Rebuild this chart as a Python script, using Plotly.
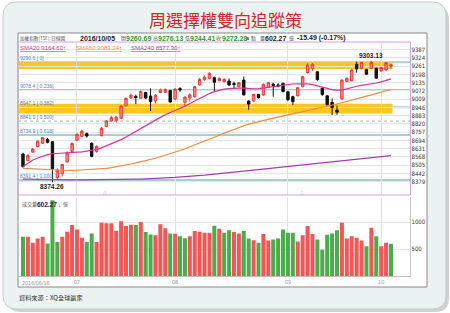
import plotly.graph_objects as go

W, H = 450, 313
def px(x): return x / W
def py(y): return 1 - y / H

# ---------------- data ----------------
dates = (
    ["2016-06-%02d" % d for d in [16, 17, 20, 21, 22, 23, 24, 27, 28, 29, 30]]
    + ["2016-07-%02d" % d for d in [1, 4, 5, 6, 7, 11, 12, 13, 14, 15, 18, 19, 20, 21, 22, 25, 26, 27, 28, 29]]
    + ["2016-08-%02d" % d for d in [1, 2, 3, 4, 5, 8, 9, 10, 11, 12, 15, 16, 17, 18, 19, 22, 23, 24, 25, 26, 29, 30, 31]]
    + ["2016-09-%02d" % d for d in [1, 2, 5, 6, 7, 8, 9, 12, 13, 14, 19, 20, 21, 22, 23, 26, 28, 29, 30]]
    + ["2016-10-%02d" % d for d in [3, 4, 5]]
)

opens = [8590, 8540, 8605, 8648, 8672, 8700, 8684, 8410, 8440, 8530,
         8610, 8695, 8725, 8745, 8672, 8610, 8731, 8800, 8843, 8848,
         8863, 8960, 9018, 9030, 9016, 9060, 9033, 8995, 9060, 9062,
         9075, 9010, 9090, 8985, 9018, 9028, 9118, 9158, 9168, 9173,
         9150, 9143, 9148, 9128, 9105, 9155, 8995, 8995, 9045, 9041,
         9100, 9124, 9118, 9130, 9066, 9028, 9036, 9105, 9212, 9245,
         9218, 9092, 9035, 8985, 8925, 9011, 9145, 9150, 9275, 9245,
         9236, 9245, 9245, 9225, 9232, 9260.69]
highs = [8600, 8590, 8635, 8695, 8720, 8712, 8690, 8480, 8515, 8610,
         8680, 8750, 8775, 8755, 8680, 8655, 8795, 8850, 8880, 8880,
         8962, 9022, 9052, 9045, 9075, 9065, 9092, 9048, 9090, 9092,
         9080, 9092, 9100, 9030, 9055, 9110, 9172, 9190, 9215, 9181,
         9175, 9170, 9168, 9143, 9140, 9181, 9000, 9050, 9050, 9128,
         9140, 9135, 9132, 9135, 9072, 9035, 9100, 9185, 9283, 9285,
         9222, 9098, 9040, 9015, 8960, 9160, 9175, 9238, 9296, 9295,
         9242, 9303.13, 9250, 9255, 9292, 9276.13]
lows = [8485, 8535, 8598, 8640, 8665, 8672, 8374.26, 8395, 8420, 8525,
        8605, 8690, 8720, 8715, 8565, 8600, 8725, 8795, 8838, 8830,
        8858, 8955, 9012, 8972, 9010, 9010, 8919, 8975, 9055, 9055,
        8982, 9000, 9065, 8950, 8990, 9020, 9112, 9150, 9160, 9072,
        9145, 9138, 9110, 9092, 9100, 9036, 8928, 8990, 9015, 9035,
        9095, 9028, 9100, 9060, 8995, 8965, 9030, 9100, 9205, 9225,
        9150, 9035, 8960, 8888, 8890, 9005, 9140, 9145, 9212, 9240,
        9195, 9240, 9165, 9220, 9228, 9244.41]
closes = [8495, 8578, 8628, 8688, 8715, 8680, 8477, 8468, 8510, 8600,
          8670, 8740, 8765, 8728, 8572, 8648, 8787, 8843, 8868, 8872,
          8957, 9015, 9040, 9022, 9067, 9018, 8992, 9040, 9078, 9082,
          8988, 9086, 9080, 9025, 9042, 9105, 9160, 9176, 9207, 9138,
          9168, 9160, 9118, 9122, 9135, 9042, 8972, 9045, 9022, 9123,
          9135, 9112, 9108, 9068, 9005, 8990, 9097, 9181, 9270, 9275,
          9158, 9045, 8968, 8945, 8910, 9155, 9168, 9232, 9240, 9290,
          9200, 9290, 9170, 9250, 9287.77, 9272.28]
volumes = [732, 732, 620, 700, 732, 607, 1410, 638, 732, 826,
           951, 869, 713, 638, 794, 638, 994, 982, 982, 844,
           1019, 932, 957, 951, 1007, 819, 776, 763, 963, 888,
           794, 788, 744, 707, 744, 838, 826, 807, 807, 938,
           882, 807, 851, 819, 794, 838, 700, 669, 620, 782,
           663, 682, 700, 869, 807, 807, 644, 763, 932, 782,
           682, 494, 769, 794, 851, 994, 700, 744, 713, 663,
           557, 900, 744, 557, 620, 602.27]
sma20 = [8494, 8520, 8545, 8560, 8575, 8586, 8592, 8594, 8595, 8596,
         8598, 8602, 8607, 8612, 8618, 8625, 8637, 8652, 8668, 8684,
         8700, 8720, 8742, 8765, 8788, 8810, 8830, 8850, 8870, 8890,
         8908, 8925, 8940, 8955, 8972, 8995, 9015, 9035, 9052, 9067,
         9078, 9086, 9090, 9093, 9094, 9093, 9090, 9088, 9090, 9095,
         9102, 9108, 9114, 9118, 9122, 9125, 9127, 9128, 9126, 9120,
         9111, 9100, 9090, 9082, 9079, 9080, 9088, 9100, 9108, 9115,
         9120, 9126, 9133, 9141, 9151, 9164.60]
sma60 = [8481, 8480, 8478, 8476, 8474, 8472, 8470, 8468, 8466, 8465,
         8465, 8466, 8468, 8470, 8472, 8474, 8477, 8481, 8486, 8492,
         8499, 8506, 8514, 8522, 8530, 8539, 8548, 8558, 8569, 8580,
         8592, 8604, 8617, 8630, 8644, 8658, 8672, 8687, 8702, 8718,
         8733, 8750, 8765, 8780, 8794, 8806, 8818, 8828, 8838, 8847,
         8856, 8864, 8872, 8880, 8888, 8896, 8904, 8912, 8920, 8928,
         8936, 8945, 8955, 8964, 8972, 8982, 8993, 9003, 9013, 9023,
         9033, 9042, 9052, 9062, 9072, 9083.34]
sma240 = [8398, 8397, 8397, 8396, 8396, 8395, 8395, 8394, 8394, 8393,
          8393, 8393, 8393, 8393, 8393, 8393, 8394, 8394, 8394, 8395,
          8395, 8396, 8397, 8398, 8399, 8400, 8402, 8404, 8406, 8408,
          8410, 8412, 8414, 8417, 8420, 8422, 8426, 8429, 8433, 8436,
          8440, 8444, 8448, 8452, 8456, 8460, 8464, 8467, 8471, 8474,
          8478, 8481, 8485, 8488, 8492, 8495, 8499, 8503, 8507, 8511,
          8515, 8519, 8523, 8527, 8531, 8535, 8539, 8543, 8547, 8552,
          8556, 8560, 8564, 8568, 8573, 8577.30]

price_ticks = [8379, 8442, 8505, 8568, 8631, 8694, 8757, 8820, 8883,
               8946, 9009, 9072, 9135, 9198, 9261, 9324, 9387]
vol_ticks = [500, 1000]
month_ticks = ["2016-07-01", "2016-08-01", "2016-09-01", "2016-10-03"]
month_labels = ["07", "08", "09", "10"]
first_label = "2016/06/16"

fib_levels = [9290.6, 9078.4, 8947.1, 8841.0, 8734.9, 8391.4]
fib_ratios = ["0", "0.236", "0.382", "0.500", "0.618", "1.000"]
bands = [(9240, 9290.6), (8900, 8975)]

header = dict(date="2016/10/05", open="9260.69", high="9276.13", low="9244.41",
              close="9272.28", vol="602.27", chg="-15.49 (-0.17%)")
sma_labels = [("SMA20", "9164.60"), ("SMA60", "9083.34"), ("SMA240", "8577.30")]

# ---------------- styles ----------------
C_UP_FILL, C_UP_LINE = "#f98a8a", "#e53b3b"
C_DN = "#111111"
C_VUP, C_VDN = "#f25656", "#4cab4c"
C_SMA = ["#d9329c", "#f08a3c", "#a63eac"]
GREEN_TXT = "#2f9a2f"
CJK = "Noto Sans CJK TC"
LAT = "Liberation Sans"

vol_colors = []
for i, c in enumerate(closes):
    up = (c > closes[i - 1]) if i > 0 else (c > opens[i])
    vol_colors.append(C_VUP if up else C_VDN)

XR = [-1.02, 78.98]

fig = go.Figure()
fig.add_trace(go.Candlestick(
    x=dates, open=opens, high=highs, low=lows, close=closes,
    xaxis="x", yaxis="y", whiskerwidth=0,
    increasing=dict(line=dict(color=C_UP_LINE, width=1), fillcolor=C_UP_FILL),
    decreasing=dict(line=dict(color=C_DN, width=1), fillcolor=C_DN),
    showlegend=False, hoverinfo="skip"))
for arr, col in zip([sma240, sma60, sma20], [C_SMA[2], C_SMA[1], C_SMA[0]]):
    fig.add_trace(go.Scatter(x=dates, y=arr, mode="lines", xaxis="x", yaxis="y",
                             line=dict(color=col, width=1.2), showlegend=False, hoverinfo="skip"))
fig.add_trace(go.Bar(x=dates, y=volumes, xaxis="x2", yaxis="y2",
                     marker=dict(color=vol_colors, line=dict(width=0)),
                     showlegend=False, hoverinfo="skip"))

# ---------------- shapes ----------------
def rrect(x0, y0, x1, y1, r):
    X = lambda v: px(v)
    Y = lambda v: py(v)
    return (f"M {X(x0+r)} {Y(y0)} L {X(x1-r)} {Y(y0)} Q {X(x1)} {Y(y0)} {X(x1)} {Y(y0+r)} "
            f"L {X(x1)} {Y(y1-r)} Q {X(x1)} {Y(y1)} {X(x1-r)} {Y(y1)} "
            f"L {X(x0+r)} {Y(y1)} Q {X(x0)} {Y(y1)} {X(x0)} {Y(y1-r)} "
            f"L {X(x0)} {Y(y0+r)} Q {X(x0)} {Y(y0)} {X(x0+r)} {Y(y0)} Z")

shapes = [
    dict(type="path", path=rrect(7, 6, 449, 312, 14), xref="paper", yref="paper",
         fillcolor="#cfd2d2", line=dict(width=0), layer="below"),
    dict(type="path", path=rrect(3, 2, 446, 309, 14), xref="paper", yref="paper",
         fillcolor="#eaf2f2", line=dict(color="#c4cccc", width=1), layer="below"),
    dict(type="rect", x0=px(18), x1=px(427), y0=py(287), y1=py(33), xref="paper", yref="paper",
         fillcolor="white", line=dict(color="#8a8a8a", width=1), layer="below"),
]
for lo, hi in bands:
    shapes.append(dict(type="rect", xref="x", yref="y", x0=XR[0], x1=75.3, y0=lo, y1=hi,
                       fillcolor="#ffc520", line=dict(width=0), layer="below"))
for lvl, r in zip(fib_levels, fib_ratios):
    if r == "0.500":
        shapes.append(dict(type="line", xref="paper", yref="y", x0=px(18), x1=px(410), y0=lvl, y1=lvl,
                           line=dict(color="#b8c4c4", width=1.2, dash="dot"), layer="below"))
    else:
        shapes.append(dict(type="line", xref="paper", yref="y", x0=px(18), x1=px(410), y0=lvl, y1=lvl,
                           line=dict(color="#a6cfcd", width=2), layer="below"))
# price panel border
shapes.append(dict(type="rect", xref="paper", yref="paper", x0=px(18), x1=px(410.5), y0=py(195), y1=py(42),
                   line=dict(color="#d7a2d7", width=1), fillcolor="rgba(0,0,0,0)", layer="above"))
# volume panel right line
shapes.append(dict(type="line", xref="paper", yref="paper", x0=px(410.5), x1=px(410.5), y0=py(276.4), y1=py(197),
                   line=dict(color="#c8c8c8", width=1)))

# ---------------- annotations ----------------
ann = []
def text(x, y, s, size=6, color="#333", font=LAT, anchor="left"):
    ann.append(dict(x=px(x), y=py(y), xref="paper", yref="paper", text=s, showarrow=False,
                    xanchor=anchor, yanchor="middle", borderpad=0,
                    font=dict(size=size, color=color, family=font)))

text(225, 19.5, "周選擇權雙向追蹤策", size=17, color="#d4262c", font=CJK, anchor="center")

hy = 38.5
text(19, hy, "加權指數(TSE)", 4.6, "#555", CJK)
text(50, hy, "日線圖", 4.8, "#555", CJK)
text(79, hy, "<b>%s</b>" % header["date"], 7, "#222")
text(119.5, hy, "開", 5.0, "#555", CJK)
text(125, hy, "<b>%s</b>" % header["open"], 7, GREEN_TXT)
text(151.5, hy, "高", 5.0, "#555", CJK)
text(157, hy, "<b>%s</b>" % header["high"], 7, GREEN_TXT)
text(183.5, hy, "低", 5.0, "#555", CJK)
text(189, hy, "<b>%s</b>" % header["low"], 7, GREEN_TXT)
text(215, hy, "收", 5.0, "#555", CJK)
text(220.5, hy, "<b>%s</b>" % header["close"], 7, GREEN_TXT)
text(245, hy, "<b>s</b>", 6, "#333")
text(250, hy, "點", 5.0, "#555", CJK)
text(258.5, hy, "量", 5.0, "#555", CJK)
text(264, hy, "<b>%s</b>" % header["vol"], 7, "#222")
text(288, hy, "億", 5.0, "#555", CJK)
text(296, hy, "<b>%s</b>" % header["chg"], 7, "#222")

lx = [19, 75, 130]
for (nm, val), col, x in zip(sma_labels, C_SMA, lx):
    text(x, 48.5, "<u>%s %s<span style='color:#e02020'>↑</span></u>" % (nm, val), 6, col)

for lvl, r in zip(fib_levels, fib_ratios):
    ann.append(dict(x=px(19), y=lvl, xref="paper", yref="y", text="%.1f [ %s]" % (lvl, r),
                    showarrow=False, xanchor="left", yanchor="bottom", yshift=0.5, borderpad=0,
                    font=dict(size=5, color="#4f82c4", family=LAT)))

ann.append(dict(x=dates[lows.index(min(lows))], y=min(lows), xref="x", yref="y",
                text="<b>%.2f</b>" % min(lows), showarrow=False, yanchor="top", yshift=0,
                borderpad=0, font=dict(size=6.5, color="#222", family=LAT)))
ann.append(dict(x=dates[highs.index(max(highs))], y=max(highs), xref="x", yref="y",
                text="<b>%.2f</b>" % max(highs), showarrow=False, yanchor="bottom", yshift=1,
                borderpad=0, font=dict(size=6.5, color="#222", family=LAT)))

text(101.5, 192.5, "△", 4.5, "#b0a0b0")
text(299, 192.5, "△", 4.5, "#b0a0b0")

text(21, 204, "成交量", 5.0, "#555", CJK)
text(36, 204, "<b>%s</b>" % header["vol"], 6.5, "#222")
text(57, 204, "↓", 6.5, "#22a022")
text(61.5, 204, "億", 5.0, "#555", CJK)

text(21, 282.5, first_label, 5.5, "#999")
text(18, 297, "資料來源：XQ全球贏家", 6.2, "#333", CJK)

# ---------------- layout ----------------
fig.update_layout(
    width=W, height=H, margin=dict(l=0, r=0, t=0, b=0),
    paper_bgcolor="white", plot_bgcolor="rgba(0,0,0,0)",
    shapes=shapes, annotations=ann, bargap=0.18, boxgap=0.3,
    xaxis=dict(type="category", domain=[px(18), px(410.5)], range=XR, anchor="y",
               showticklabels=False, tickvals=month_ticks, showgrid=True, gridcolor="#e2e2e2",
               gridwidth=1, zeroline=False, showline=False, rangeslider=dict(visible=False),
               ticks=""),
    yaxis=dict(domain=[py(195), py(42)], range=[8277, 9446], side="right", anchor="x",
               tickvals=price_ticks, ticktext=[str(t) for t in price_ticks],
               tickfont=dict(size=6, color="#333", family="DejaVu Sans Condensed"),
               showgrid=True, gridcolor="#e6e6e6", zeroline=False, showline=False, ticks=""),
    xaxis2=dict(type="category", domain=[px(18), px(410.5)], range=XR, anchor="y2",
                tickvals=month_ticks, ticktext=month_labels,
                tickfont=dict(size=5.5, color="#999", family=LAT),
                showgrid=True, gridcolor="#e2e2e2", zeroline=False,
                showline=True, linecolor="#c0c0c0", linewidth=1, ticks=""),
    yaxis2=dict(domain=[py(276.4), py(197)], range=[0, 1468], side="right", anchor="x2",
                tickvals=vol_ticks, ticktext=[str(t) for t in vol_ticks],
                tickfont=dict(size=6, color="#333", family="DejaVu Sans Condensed"),
                showgrid=True, gridcolor="#e6e6e6", zeroline=False, showline=False, ticks=""),
)

fig.write_html("out.html")
